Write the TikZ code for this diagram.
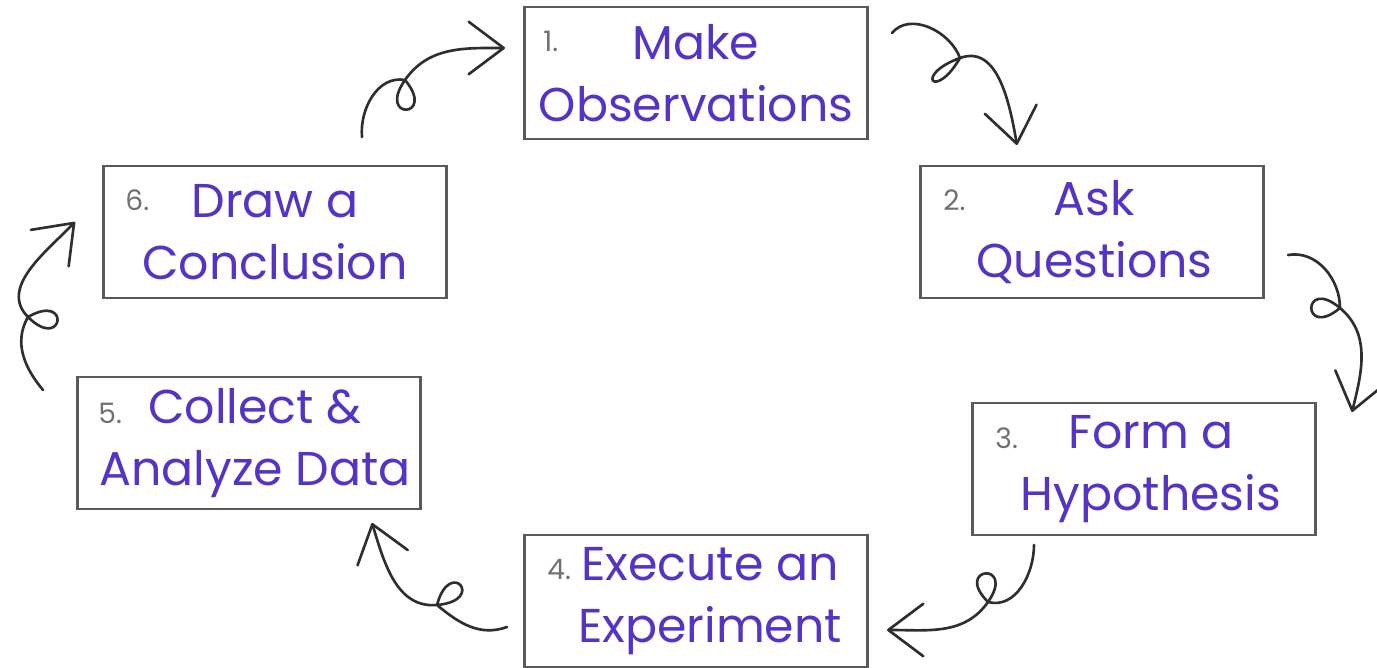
\documentclass[tikz,border=0pt]{standalone}
\usepackage{fontspec}
\setmainfont{Poppins}
\usetikzlibrary{
	positioning,
	arrows.meta
}
\definecolor{stepcolor}{HTML}{5533C4}
\definecolor{boxcolor}{HTML}{5A5A5A}
\definecolor{numcolor}{HTML}{707070}
\definecolor{curlcolor}{HTML}{2E2E2E}
\tikzset{
	stepbox/.style={
		draw=boxcolor,
		line width=1.6pt,
		minimum width=6.86cm,
		minimum height=2.64cm,
		inner sep=0pt,
		align=center,
		text=stepcolor,
		font=\fontsize{27}{35.5}\selectfont
	},
	stepnum/.style={
		anchor=base west,
		inner sep=0pt,
		text=numcolor,
		font=\fontsize{16}{16}\selectfont
	},
	curl/.style={
		-{Straight Barb[length=7mm,width=10.5mm,round]},
		color=curlcolor,
		line width=1.5pt,
		line cap=round,
		line join=round
	},
	lobe/.style={
		min distance=1cm
	}
}
\newcommand{\indentline}[1]{\hspace*{#1}}

\begin{document}
\begin{tikzpicture}[x=0.02cm, y=0.02cm]
		\useasboundingbox (0,0) rectangle (1377,668);
		
		% Steps
		\node[stepbox] (obs) at (696,595) {Make\\Observations};
		\node[stepbox] (ask) at (1092,436) {\indentline{0.1cm}Ask\\\indentline{0.1cm}Questions};
		\node[stepbox] (hyp) at (1144,199) {\indentline{0.28cm}Form a\\\indentline{0.28cm}Hypothesis};
		\node[stepbox] (exp) at (696,67) {\indentline{0.56cm}Execute an\\\indentline{0.56cm}Experiment};
		\node[stepbox] (ana) at (249,225) {\indentline{0.24cm}Collect \&\\\indentline{0.24cm}Analyze Data};
		\node[stepbox] (con) at (275,436) {Draw a\\Conclusion};
		
		% Numbers
		\node[stepnum] at ([shift={(20,-46)}]obs.north west) {1.};
		\node[stepnum] at ([shift={(24,-46)}]ask.north west) {2.};
		\node[stepnum] at ([shift={(24,-47)}]hyp.north west) {3.};
		\node[stepnum] at ([shift={(24,-46)}]exp.north west) {4.};
		\node[stepnum] at ([shift={(22,-48)}]ana.north west) {5.};
		\node[stepnum] at ([shift={(23,-46)}]con.north west) {6.};
		
		% Curly arrows
		\coordinate (s1) at (892,635);
		\coordinate (c1) at (960,610);
		\coordinate (e1) at (1017,523);
		\draw[curl] (s1) to[out=50,in=110] (c1)
			to[out=-120,in=200,lobe] (c1)
			to[out=20,in=100] (e1);
		
		\coordinate (s2) at (1288,413);
		\coordinate (c2) at (1340,360);
		\coordinate (e2) at (1352,256);
		\draw[curl] (s2) to[out=10,in=90] (c2)
			to[out=-140,in=140,lobe] (c2)
			to[out=-40,in=76] (e2);
		
		\coordinate (s3) at (1034,123);
		\coordinate (c3) at (988,66);
		\coordinate (e3) at (887,38);
		\draw[curl] (s3) to[out=-90,in=-15] (c3)
			to[out=135,in=55,lobe] (c3)
			to[out=-125,in=0] (e3);
		
		\coordinate (s4) at (507,41);
		\coordinate (c4) at (437,63);
		\coordinate (e4) at (372,145);
		\draw[curl] (s4) to[out=200,in=-40] (c4)
			to[out=75,in=5,lobe] (c4)
			to[out=185,in=-73] (e4);
		
		\coordinate (s5) at (43,278);
		\coordinate (c5) at (28,351);
		\coordinate (e5) at (75,446);
		\draw[curl] (s5) to[out=130,in=-120] (c5)
			to[out=30,in=-45,lobe] (c5)
			to[out=135,in=-134] (e5);
		
		\coordinate (s6) at (362,531);
		\coordinate (c6) at (405,588);
		\coordinate (e6) at (505,620);
		\draw[curl] (s6) to[out=95,in=170] (c6)
			to[out=-50,in=-125,lobe] (c6)
			to[out=55,in=180] (e6);
		
	\end{tikzpicture}
\end{document}
